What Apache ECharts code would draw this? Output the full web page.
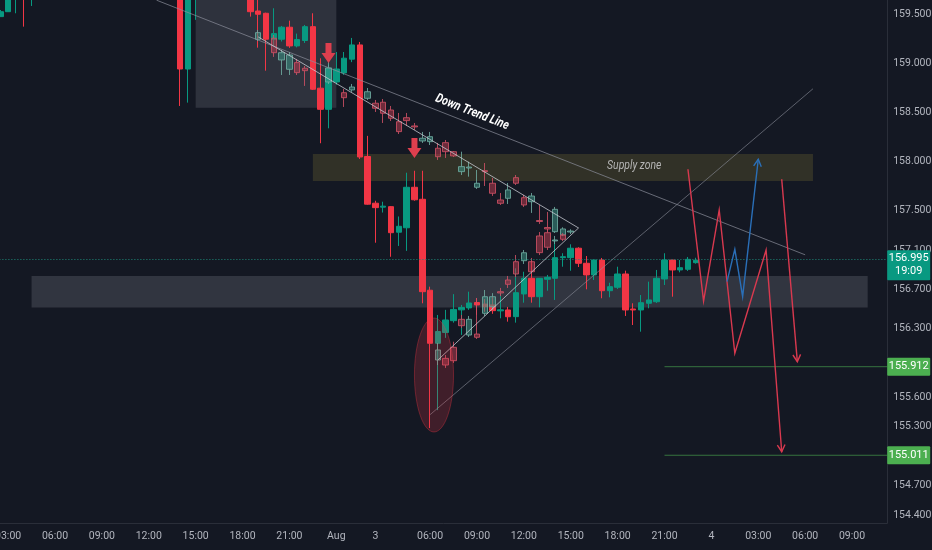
<!DOCTYPE html>
<html><head><meta charset="utf-8">
<script src="https://cdn.jsdelivr.net/npm/echarts@6/dist/echarts.min.js"></script>
<style>html,body{margin:0;padding:0;background:#141823;}#c{width:932px;height:550px;}</style>
</head><body><div id="c"></div>
<script>
// ---- time axis (30-minute bars) ----
const sessionDates = ['Jul 31', 'Aug 1', 'Aug 3', 'Aug 4'];
const sessionFirst = ['02:30', '00:00', '02:30', '00:00'];
const sessionBars  = [43, 5, 43, 23];
const sessionMarks = ['', 'Aug', '3', '4'];

const categories = [];
const markAt = {};
sessionDates.forEach((d, s) => {
  const [h, m] = sessionFirst[s].split(':').map(Number);
  const t0 = h * 60 + m;
  for (let k = 0; k < sessionBars[s]; k++) {
    const mm = t0 + 30 * k;
    const cat = d + ' ' + String(Math.floor(mm / 60)).padStart(2, '0') + ':' + String(mm % 60).padStart(2, '0');
    if (k === 0 && sessionMarks[s]) markAt[cat] = sessionMarks[s];
    categories.push(cat);
  }
});

// ---- price axis labels ----
const priceTicks = [159.5, 159.0, 158.5, 158.0, 157.5, 157.1, 156.7, 156.3, 155.6, 155.3, 154.7, 154.4];
const priceMin = 154.322, priceMax = 159.642;

// ---- real candles [open, close, low, high] from 'Jul 31 02:30' ----
const candles = [
 [159.473,159.523,159.47,159.54],[159.523,159.75,159.52,159.80],[159.70,159.85,159.507,159.90],[159.85,159.70,159.371,159.95],
 [159.70,159.90,159.581,160.00],[159.90,160.05,159.85,160.10],[160.05,159.95,159.90,160.12],[159.95,160.10,159.92,160.15],
 [160.10,160.20,160.05,160.28],[160.20,160.08,160.02,160.25],[160.08,160.15,160.00,160.20],[160.15,160.30,160.12,160.35],
 [160.30,160.22,160.18,160.38],[160.22,160.35,160.20,160.40],[160.35,160.28,160.22,160.42],[160.28,160.18,160.12,160.33],
 [160.18,160.25,160.10,160.30],[160.25,160.15,160.08,160.30],[160.15,160.22,160.10,160.28],[160.22,160.30,160.18,160.36],
 [160.30,160.20,160.15,160.34],[160.20,160.28,160.16,160.32],[160.28,160.25,160.20,160.33],[160.25,158.94,158.564,160.30],
 [158.94,160.20,158.598,160.25],[160.12,160.22,159.44,160.28],[160.22,160.10,160.02,160.26],[160.10,160.05,159.95,160.15],
 [160.05,159.95,159.85,160.10],[159.95,160.00,159.88,160.06],[160.00,159.90,159.80,160.04],[159.90,159.80,159.72,159.95],
 [159.80,159.523,159.473,159.85],[159.53,159.497,159.157,159.70],[159.507,159.243,158.923,159.513],[159.24,159.30,159.18,159.558],
 [159.243,159.365,159.22,159.378],[159.365,159.175,159.155,159.432],[159.175,159.24,159.16,159.30],[159.23,159.371,159.205,159.388],
 [159.371,158.734,158.727,159.507],[158.745,158.53,158.185,159.049],[158.53,158.948,158.337,158.98],[158.808,158.94,158.78,159.113],
 [158.90,159.05,158.88,159.113],[159.04,159.185,159.01,159.256],[159.185,158.045,158.025,159.215],[158.05,157.565,157.56,158.26],
 [157.575,157.53,157.173,157.60],[157.535,157.545,157.48,157.59],[157.54,157.275,157.03,157.545],[157.28,157.34,157.14,157.44],
 [157.325,157.737,157.09,157.885],[157.737,157.61,157.60,157.905],[157.615,156.675,156.557,157.905],[156.69,156.15,155.288,156.726],
 [156.15,156.27,155.47,156.438],[156.26,156.387,156.205,156.49],[156.38,156.495,156.36,156.65],[156.49,156.515,156.235,156.54],
 [156.51,156.56,156.49,156.675],[156.565,156.54,156.44,156.61],[156.549,156.522,156.47,156.60],[156.54,156.482,156.45,156.62],
 [156.48,156.49,156.404,156.675],[156.489,156.42,156.37,156.52],[156.421,156.665,156.36,156.913],[156.652,156.811,156.563,156.878],
 [156.811,156.624,156.563,156.99],[156.624,156.811,156.516,156.814],[156.801,156.821,156.685,156.845],[156.811,157.021,156.591,157.201],
 [157.021,157.031,156.929,157.066],[157.021,157.117,156.888,157.157],[157.117,156.964,156.926,157.127],[156.964,156.845,156.699,157.038],
 [156.845,156.997,156.794,157.0],[156.997,156.685,156.608,157.018],[156.685,156.726,156.618,156.766],[156.72,156.855,156.702,156.929],
 [156.855,156.489,156.428,156.889],[156.499,156.489,156.336,156.557],[156.489,156.563,156.268,156.641],[156.557,156.591,156.506,156.777],
 [156.573,156.811,156.56,156.896],[156.804,156.997,156.743,157.066],[156.997,156.896,156.624,157.0],[156.896,156.919,156.872,156.997],
 [156.903,157.004,156.886,157.028],[156.97,156.995,156.96,157.02]
];
const lastPrice = 156.995;
const countdown = '19:09';

// ---- bars-pattern ghosts [open, close, low, high] ----
const upperGhostStart = 'Jul 31 19:00';
const upperGhost = [
 [159.242,159.310,159.225,159.337], null, [159.253,159.106,159.063,159.286], [159.032,159.106,158.879,159.134],
 [158.937,159.083,158.879,159.113], [159.005,158.903,158.879,159.042], [158.948,158.923,158.768,158.971], null, null,
 [158.808,158.951,158.788,159.012], null, [158.699,158.648,158.554,158.737], [158.727,158.757,158.707,158.788], null,
 [158.642,158.709,158.625,158.747], [158.592,158.541,158.503,158.625], [158.602,158.490,158.391,158.635], [158.523,158.439,158.411,158.564],
 [158.404,158.303,158.279,158.493], [158.445,158.415,158.361,158.493], [158.361,158.351,158.320,158.391], [158.208,158.236,158.188,158.300],
 [158.201,158.252,158.167,158.300], [158.134,158.048,158.015,158.188], [158.191,158.099,158.035,158.218], [158.099,158.056,158.045,158.106],
 [157.896,157.947,157.862,158.099], [157.933,157.943,157.845,157.997], [157.737,157.778,157.720,157.913], [157.906,157.896,157.750,157.984],
 [157.778,157.676,157.649,157.832], [157.608,157.574,157.557,157.679], [157.625,157.710,157.567,157.781], [157.835,157.778,157.760,157.862],
 [157.631,157.557,157.537,157.659], [157.590,157.648,157.476,157.679], [157.399,157.389,157.364,157.557], [157.328,157.313,157.282,157.486],
 [157.285,157.513,157.272,157.537], [157.252,157.313,157.24,157.33], [157.282,157.292,157.26,157.31]
];
const lowerGhostStart = 'Aug 3 06:30';
const lowerGhost = [
 [155.980,156.082,155.929,156.153], [155.997,155.929,155.899,156.031], [156.109,155.973,155.950,156.166], [156.394,156.329,156.306,156.438],
 [156.234,156.394,156.214,156.428], [156.244,156.211,156.194,156.611], [156.455,156.624,156.428,156.692], [156.522,156.624,156.49,156.66],
 [156.675,156.662,156.631,156.713], [156.794,156.750,156.713,156.835], [156.980,156.855,156.824,157.048], [156.990,157.071,156.957,157.099],
 [156.980,156.878,156.855,157.018], [157.242,157.072,157.048,157.282], [157.275,157.127,157.099,157.313], [157.191,157.201,157.160,157.242],
 [157.252,157.208,157.19,157.27]
];

// ---- drawings (time, price anchors) ----
const focusBox = ['Jul 31 15:00', 159.80, 'Aug 1 00:00', 158.547];
const supplyZone = ['Jul 31 22:30', 158.076, 'Aug 4 06:30', 157.801];
const supportZone = ['Jul 31 04:30', 156.835, 'Aug 4 10:00', 156.514];
const downTrendLine = [['Jul 31 12:30', 159.64], ['Aug 4 06:00', 157.05]];
const wedgeUpper = [['Jul 31 19:00', 159.267], ['Aug 3 15:30', 157.323]];
const wedgeLower = [['Aug 3 06:30', 155.98], ['Aug 3 15:30', 157.323]];
const risingLine = [['Aug 3 06:00', 155.424], ['Aug 4 06:30', 158.739]];
const sellArrows = [['Jul 31 23:30', 159.001], ['Aug 3 05:00', 158.035]];
const spikeEllipse = ['Aug 3 05:00', 156.407, 'Aug 3 07:30', 155.248];
const bearPathA = [['Aug 3 22:30',157.920],['Aug 3 23:30',156.580],['Aug 4 00:30',157.506],['Aug 4 01:30',156.048],['Aug 4 03:30',157.099],['Aug 4 04:30',155.047]];
const bearPathB = [['Aug 4 04:30',157.818],['Aug 4 05:30',155.963]];
const bullPath = [['Aug 4 01:00',156.777],['Aug 4 01:30',157.106],['Aug 4 02:00',156.624],['Aug 4 03:00',158.022]];
const targetStart = 'Aug 3 21:00';
const targets = [155.912, 155.011];
const trendLabel = ['Aug 3 08:30', 158.50, 'Down Trend Line'];
const zoneLabel = ['Aug 3 19:00', 157.954, 'Supply zone'];

// ---- helpers ----
function timeLabel(i) {
  const cat = categories[i];
  if (markAt[cat]) return markAt[cat];
  const [hh, mm] = cat.slice(-5).split(':').map(Number);
  if (mm !== 0 || hh % 3 !== 0) return '';
  for (let k = 1; k <= 4; k++) if (i - k >= 0 && markAt[categories[i - k]]) return '';
  return cat.slice(-5);
}
function alignBars(start, bars) {
  const i0 = categories.indexOf(start);
  const out = categories.map(() => '-');
  bars.forEach((b, k) => { if (b) out[i0 + k] = b; });
  return out;
}
function pt(api, t, p) {
  const i = typeof t === 'string' ? categories.indexOf(t) : t;
  const i0 = Math.floor(i), f = i - i0;
  const a = api.coord([i0, p]);
  if (!f) return a;
  const b = api.coord([i0 + 1, p]);
  return [a[0] + (b[0] - a[0]) * f, a[1]];
}
function rectOf(api, box) {
  const a = pt(api, box[0], box[1]), b = pt(api, box[2], box[3]);
  return { x: Math.min(a[0], b[0]), y: Math.min(a[1], b[1]), width: Math.abs(b[0] - a[0]), height: Math.abs(b[1] - a[1]) };
}
function head(p1, p2, len, color, w) {
  const ang = Math.atan2(p2[1] - p1[1], p2[0] - p1[0]);
  const a1 = ang + Math.PI - 0.5, a2 = ang + Math.PI + 0.5;
  return { type: 'polyline', shape: { points: [[p2[0] + len * Math.cos(a1), p2[1] + len * Math.sin(a1)], p2, [p2[0] + len * Math.cos(a2), p2[1] + len * Math.sin(a2)]] },
    style: { stroke: color, lineWidth: w, fill: null } };
}

const FONT = "Roboto, 'Liberation Sans', sans-serif";
const UP = '#089981', DOWN = '#f23645';
const GHOST = { color: 'rgba(60,150,135,0.55)', color0: 'rgba(190,62,82,0.52)', borderColor: 'rgba(110,170,160,0.85)', borderColor0: 'rgba(205,80,100,0.85)', borderWidth: 1 };

function renderZones(params, api) {
  const children = [];
  children.push({ type: 'rect', shape: rectOf(api, focusBox), style: { fill: 'rgba(120,123,134,0.27)' } });
  children.push({ type: 'rect', shape: rectOf(api, supplyZone), style: { fill: 'rgba(135,125,55,0.26)' } });
  children.push({ type: 'rect', shape: rectOf(api, supportZone), style: { fill: 'rgba(120,123,134,0.3)' } });
  return { type: 'group', children };
}

function renderDrawings(params, api) {
  const children = [];
  const cs = params.coordSys;
  const line = (pts, color, w) => children.push({ type: 'polyline', shape: { points: pts.map(q => pt(api, q[0], q[1])) }, style: { stroke: color, lineWidth: w, fill: null } });
  line(downTrendLine, 'rgba(140,143,155,0.7)', 1);
  line(risingLine, 'rgba(140,143,155,0.6)', 1);
  line(wedgeUpper, 'rgba(205,208,216,0.75)', 1);
  line(wedgeLower, 'rgba(205,208,216,0.75)', 1);

  // ellipse around the spike
  const e = rectOf(api, spikeEllipse);
  const cx = e.x + e.width / 2, cy = e.y + e.height / 2;
  const ep = [];
  for (let k = 0; k < 64; k++) { const t = k / 64 * Math.PI * 2; ep.push([cx + e.width / 2 * Math.cos(t), cy + e.height / 2 * Math.sin(t)]); }
  children.push({ type: 'polygon', shape: { points: ep }, style: { fill: 'rgba(242,54,69,0.2)', stroke: 'rgba(242,54,69,0.35)', lineWidth: 1 } });

  // sell arrows
  sellArrows.forEach(a => {
    const p = pt(api, a[0], a[1]);
    const shape = [[0,0],[-7,-10],[-3,-10],[-3,-20],[3,-20],[3,-10],[7,-10]].map(d => [p[0] + d[0], p[1] + d[1]]);
    children.push({ type: 'polygon', shape: { points: shape }, style: { fill: '#dd3f4e' } });
  });

  // target lines
  targets.forEach(v => {
    const a = pt(api, targetStart, v);
    children.push({ type: 'line', shape: { x1: a[0], y1: a[1], x2: cs.x + cs.width, y2: a[1] }, style: { stroke: 'rgba(76,175,80,0.6)', lineWidth: 1 } });
  });

  // projection paths
  const path = (pts, color) => {
    const px = pts.map(q => pt(api, q[0], q[1]));
    children.push({ type: 'polyline', shape: { points: px }, style: { stroke: color, lineWidth: 1.4, fill: null } });
    children.push(head(px[px.length - 2], px[px.length - 1], 8, color, 1.4));
  };
  path(bearPathA, '#d9394f');
  path(bearPathB, '#d9394f');
  path(bullPath, '#2a6fb8');

  // texts
  const d0 = pt(api, downTrendLine[0][0], downTrendLine[0][1]), d1 = pt(api, downTrendLine[1][0], downTrendLine[1][1]);
  const rot = -Math.atan2(d1[1] - d0[1], d1[0] - d0[0]);
  const tp = pt(api, trendLabel[0], trendLabel[1]);
  children.push({ type: 'text', x: tp[0] + 3, y: tp[1], rotation: rot, scaleX: 0.82,
    style: { text: trendLabel[2], fill: '#ffffff', font: "italic bold 13px Roboto, sans-serif", align: 'center', verticalAlign: 'middle' } });
  const zp = pt(api, zoneLabel[0], zoneLabel[1]);
  children.push({ type: 'text', x: zp[0] + 1, y: zp[1], scaleX: 0.8,
    style: { text: zoneLabel[2], fill: '#b4b4b4', font: "italic 13px Roboto, sans-serif", align: 'center', verticalAlign: 'middle' } });
  return { type: 'group', children };
}

function renderTags(params, api) {
  const cs = params.coordSys;
  const x0 = cs.x + cs.width;
  const children = [];
  const yl = api.coord([0, lastPrice])[1];
  children.push({ type: 'rect', shape: { x: x0, y: yl - 10, width: 43, height: 30, r: 1 }, style: { fill: '#089981' } });
  children.push({ type: 'text', x: x0 + 21.5, y: yl - 2, style: { text: lastPrice.toFixed(3), fill: '#ffffff', font: '11px ' + FONT, align: 'center', verticalAlign: 'middle' } });
  children.push({ type: 'text', x: x0 + 21.5, y: yl + 11, style: { text: countdown, fill: '#ffffff', font: '11px ' + FONT, align: 'center', verticalAlign: 'middle' } });
  targets.forEach(v => {
    const y = api.coord([0, v])[1];
    children.push({ type: 'rect', shape: { x: x0, y: y - 9, width: 43, height: 18, r: 1 }, style: { fill: '#4caf50' } });
    children.push({ type: 'text', x: x0 + 21.5, y: y, style: { text: v.toFixed(3), fill: '#ffffff', font: '11px ' + FONT, align: 'center', verticalAlign: 'middle' } });
  });
  return { type: 'group', children };
}

const chart = echarts.init(document.getElementById('c'), null, { renderer: 'canvas', width: 932, height: 550 });
chart.setOption({
  animation: false,
  backgroundColor: '#141823',
  grid: { left: -3.6, right: 44.8, top: 0, bottom: 27, outerBoundsMode: 'none', containLabel: false },
  xAxis: {
    type: 'category', data: categories, boundaryGap: true,
    axisLine: { show: true, lineStyle: { color: '#2a2e39' } },
    axisTick: { show: false },
    splitLine: { show: false },
    axisLabel: { interval: (i) => timeLabel(i) !== '', formatter: (v, i) => timeLabel(i), color: '#b2b5be', fontSize: 10.5, fontFamily: FONT, margin: 8 }
  },
  yAxis: {
    type: 'value', position: 'right', min: priceMin, max: priceMax, scale: true,
    axisLine: { show: true, lineStyle: { color: '#2a2e39' } },
    axisTick: { show: false },
    splitLine: { show: false },
    axisLabel: { customValues: priceTicks, formatter: v => v.toFixed(3), color: '#b2b5be', fontSize: 10.5, fontFamily: FONT, margin: 6 }
  },
  series: [
    { type: 'custom', name: 'zones', z: 1, clip: true, data: [[0, 157]], renderItem: renderZones, silent: true },
    { type: 'candlestick', name: 'price', z: 2, clip: true, barWidth: 6, data: candles,
      itemStyle: { color: UP, color0: DOWN, borderColor: UP, borderColor0: DOWN, borderWidth: 1 },
      markLine: { silent: true, symbol: 'none', label: { show: false },
        lineStyle: { color: '#1f8a7a', type: [1, 2], width: 1 }, data: [{ yAxis: lastPrice }] } },
    { type: 'candlestick', name: 'pattern upper', z: 3, clip: true, barWidth: 6, data: alignBars(upperGhostStart, upperGhost), itemStyle: GHOST },
    { type: 'candlestick', name: 'pattern lower', z: 3, clip: true, barWidth: 6, data: alignBars(lowerGhostStart, lowerGhost), itemStyle: GHOST },
    { type: 'custom', name: 'drawings', z: 5, clip: true, data: [[0, 157]], renderItem: renderDrawings, silent: true },
    { type: 'custom', name: 'tags', z: 10, clip: false, data: [[0, 157]], renderItem: renderTags, silent: true }
  ]
});
</script>
</body></html>
